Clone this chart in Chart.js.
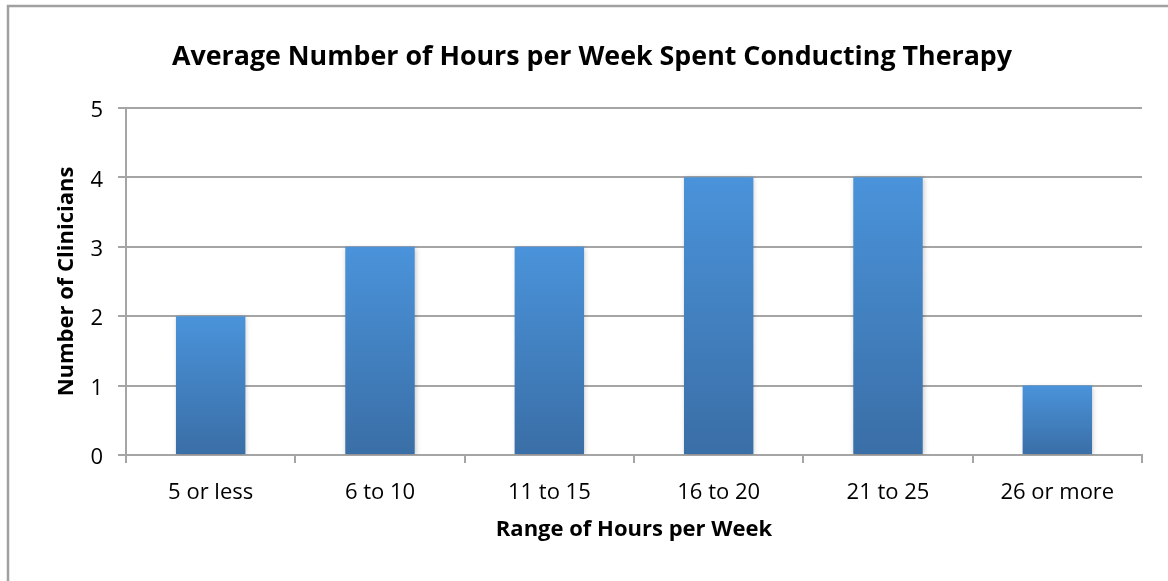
<!DOCTYPE html>
<html>
<head>
<meta charset="utf-8">
<script src="https://cdn.jsdelivr.net/npm/chart.js@4/dist/chart.umd.min.js"></script>
<style>
  html, body { margin: 0; padding: 0; background: #fff; overflow: hidden; }
  #wrap { width: 1168px; height: 581px; position: relative; }
</style>
</head>
<body>
<div id="wrap"><canvas id="hoursChart"></canvas></div>
<script>
// Chart data
const categories = ['5 or less', '6 to 10', '11 to 15', '16 to 20', '21 to 25', '26 or more'];
const clinicians = [2, 3, 3, 4, 4, 1];
const yTicks = [0, 1, 2, 3, 4, 5];

const FONT = '"Open Sans", Lato, sans-serif';
const GRID = '#a5a5a5';

// Frame around the chart (only top & left visible in the crop)
const framePlugin = {
  id: 'frame',
  beforeDraw(chart) {
    const ctx = chart.ctx;
    ctx.save();
    ctx.strokeStyle = '#a0a0a0';
    ctx.lineWidth = 2.5;
    ctx.beginPath();
    ctx.moveTo(8, 600);
    ctx.lineTo(8, 6);
    ctx.lineTo(1200, 6);
    ctx.stroke();
    ctx.restore();
  }
};

// Soft shadow under the bars
const shadowPlugin = {
  id: 'barShadow',
  beforeDatasetsDraw(chart) {
    const ctx = chart.ctx;
    ctx.save();
    ctx.shadowColor = 'rgba(0,0,0,0.22)';
    ctx.shadowBlur = 5;
    ctx.shadowOffsetX = 1;
    ctx.shadowOffsetY = 1;
  },
  afterDatasetsDraw(chart) {
    chart.ctx.restore();
  }
};

function barGradient(context) {
  const chart = context.chart;
  const yScale = chart.scales.y;
  if (!yScale || context.parsed === undefined) return '#4285c6';
  const top = yScale.getPixelForValue(context.parsed.y);
  const base = yScale.getPixelForValue(0);
  if (!isFinite(top) || !isFinite(base) || top === base) return '#4285c6';
  const g = chart.ctx.createLinearGradient(0, top, 0, base);
  g.addColorStop(0, '#4a93da');
  g.addColorStop(1, '#3a6ea6');
  return g;
}

const chartEl = document.getElementById('hoursChart');
new Chart(chartEl, {
  type: 'bar',
  data: {
    labels: categories,
    datasets: [{
      label: 'Number of Clinicians',
      data: clinicians,
      backgroundColor: barGradient,
      borderWidth: 0,
      categoryPercentage: 1.0,
      barPercentage: 0.41
    }]
  },
  options: {
    responsive: true,
    maintainAspectRatio: false,
    animation: false,
    layout: {
      padding: { left: 42, right: 26, top: 0, bottom: 0 }
    },
    plugins: {
      legend: { display: false },
      tooltip: { enabled: false },
      title: {
        display: true,
        text: 'Average Number of Hours per Week Spent Conducting Therapy',
        color: '#000',
        font: { family: FONT, size: 26.8, weight: 'bold' },
        padding: { top: 40.9, bottom: 34.9 }
      }
    },
    scales: {
      x: {
        grid: {
          drawOnChartArea: false,
          drawTicks: true,
          tickLength: 8,
          color: GRID,
          lineWidth: 2
        },
        border: { display: true, color: GRID, width: 2 },
        ticks: {
          color: '#000',
          font: { family: FONT, size: 22 },
          padding: 17,
          maxRotation: 0
        },
        title: {
          display: true,
          text: 'Range of Hours per Week',
          color: '#000',
          font: { family: FONT, size: 22, weight: 'bold' },
          padding: { top: 0, bottom: 38 }
        },
        afterFit(scale) { scale.height = 126; }
      },
      y: {
        min: 0,
        max: 5,
        afterBuildTicks(scale) {
          scale.ticks = yTicks.map(v => ({ value: v }));
        },
        grid: {
          color: GRID,
          lineWidth: 2,
          tickLength: 8
        },
        border: { display: true, color: GRID, width: 2 },
        ticks: {
          color: '#000',
          font: { family: FONT, size: 22 },
          padding: 15,
          labelOffset: 3
        },
        title: {
          display: true,
          text: 'Number of Clinicians',
          color: '#000',
          font: { family: FONT, size: 22, weight: 'bold' },
          padding: { top: 11.8, bottom: 0 }
        },
        afterFit(scale) { scale.width = 84; }
      }
    }
  },
  plugins: [framePlugin, shadowPlugin]
});
</script>
</body>
</html>
